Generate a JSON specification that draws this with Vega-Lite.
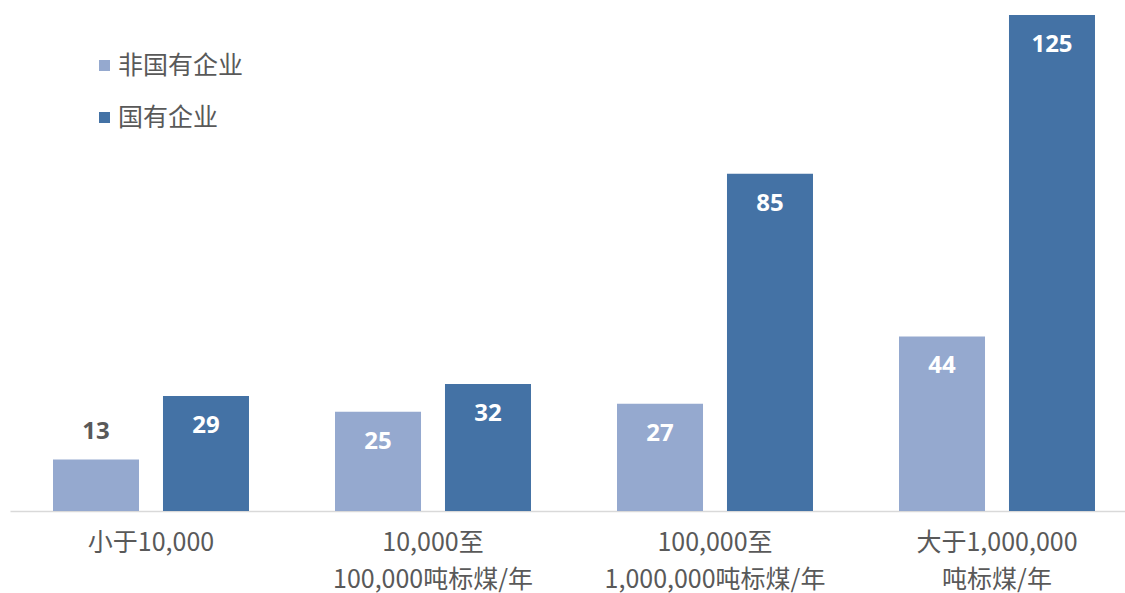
{
  "$schema": "https://vega.github.io/schema/vega-lite/v6.json",
  "width": 1128,
  "height": 496,
  "autosize": {"type": "none"},
  "padding": {"left": 10, "top": 15, "right": 0, "bottom": 82},
  "background": "white",
  "config": {"view": {"stroke": null}, "font": "Noto Sans CJK SC"},
  "data": {
    "values": [
      {"category": "小于10,000", "group": "非国有企业", "value": 13},
      {"category": "小于10,000", "group": "国有企业", "value": 29},
      {"category": "10,000至|100,000吨标煤/年", "group": "非国有企业", "value": 25},
      {"category": "10,000至|100,000吨标煤/年", "group": "国有企业", "value": 32},
      {"category": "100,000至|1,000,000吨标煤/年", "group": "非国有企业", "value": 27},
      {"category": "100,000至|1,000,000吨标煤/年", "group": "国有企业", "value": 85},
      {"category": "大于1,000,000|吨标煤/年", "group": "非国有企业", "value": 44},
      {"category": "大于1,000,000|吨标煤/年", "group": "国有企业", "value": 125}
    ]
  },
  "encoding": {
    "x": {
      "field": "category",
      "type": "nominal",
      "sort": null,
      "title": null,
      "scale": {"paddingInner": 0.305, "paddingOuter": 0.1525},
      "axis": {
        "labelAngle": 0,
        "labelExpr": "split(datum.label, '|')",
        "labelFontSize": 25,
        "labelColor": "#595959",
        "labelFont": "Noto Sans CJK SC",
        "labelLineHeight": 37,
        "labelPadding": 19,
        "labelLimit": 0,
        "labelOverlap": false,
        "ticks": false,
        "grid": false,
        "domainColor": "#d9d9d9",
        "domainWidth": 1.5
      }
    },
    "xOffset": {
      "field": "group",
      "type": "nominal",
      "sort": ["非国有企业", "国有企业"],
      "scale": {"paddingInner": 0.218, "paddingOuter": 0}
    },
    "y": {
      "field": "value",
      "type": "quantitative",
      "scale": {"domain": [0, 125], "nice": false, "zero": true},
      "axis": null
    }
  },
  "layer": [
    {
      "mark": {"type": "bar"},
      "encoding": {
        "color": {
          "field": "group",
          "type": "nominal",
          "sort": ["非国有企业", "国有企业"],
          "scale": {"domain": ["非国有企业", "国有企业"], "range": ["#95a9cf", "#4472a5"]},
          "legend": {
            "title": null,
            "orient": "none",
            "legendX": 82,
            "legendY": 38,
            "padding": 0,
            "symbolType": "square",
            "symbolSize": 121,
            "symbolStrokeWidth": 0,
            "labelFontSize": 25,
            "labelColor": "#595959",
            "labelFont": "Noto Sans CJK SC",
            "labelOffset": 1,
            "rowPadding": 26
          }
        }
      }
    },
    {
      "transform": [{"filter": "datum.value >= 20"}],
      "mark": {"type": "text", "baseline": "middle", "dy": 30, "fontSize": 24, "fontWeight": "bold", "font": "Noto Sans", "color": "white"},
      "encoding": {"text": {"field": "value", "type": "quantitative"}}
    },
    {
      "transform": [{"filter": "datum.value < 20"}],
      "mark": {"type": "text", "baseline": "middle", "dy": -27, "fontSize": 24, "fontWeight": "bold", "font": "Noto Sans", "color": "#595959"},
      "encoding": {"text": {"field": "value", "type": "quantitative"}}
    }
  ]
}
